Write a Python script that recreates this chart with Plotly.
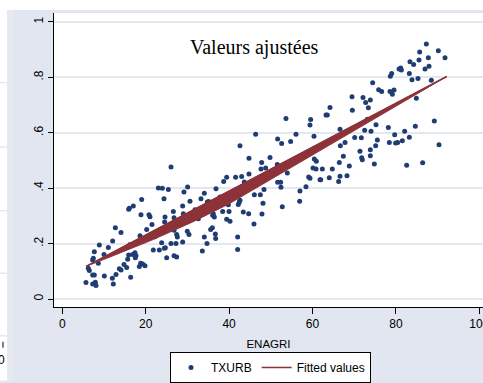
import numpy as np
import plotly.graph_objects as go

# ---------------- data ----------------
enagri = [
    5.68, 7.28, 7.92, 8.08, 7.28, 7.68, 6.48, 6.24, 7.44, 7.28, 7.68, 8.88, 8.64, 10.08, 10.0,
    11.04, 12.08, 12.0, 12.24, 12.72, 12.88, 13.68, 14.08, 14.08, 14.8, 15.44, 15.68, 15.92,
    16.23, 16.4, 15.92, 16.07, 17.03, 16.87, 17.43, 17.67, 17.51, 18.47, 18.79, 18.63, 19.03,
    19.27, 19.83, 18.87, 20.23, 20.79, 21.03, 21.51, 21.83, 23.27, 23.83, 24.47, 24.71, 25.03,
    26.07, 26.79, 26.79, 27.27, 27.43, 27.43, 27.59, 29.98, 30.38, 28.86, 33.58, 34.06, 34.7,
    35.58, 35.98, 36.7, 36.78, 39.42, 40.22, 42.05, 42.05,
    23.03, 23.99, 24.39, 25.43, 24.55, 24.63, 26.07, 26.63, 28.86, 29.02, 29.18, 30.06, 30.62,
    31.82, 32.62, 33.26, 34.06, 34.78, 35.1, 36.06, 36.22, 36.46, 36.86, 37.82, 38.46, 38.7,
    39.42, 39.82, 39.98, 41.57, 42.21, 43.01, 43.65, 43.41, 42.61, 42.45, 44.77, 44.77, 44.69,
    26.8, 42.61, 22.2,
    63.56, 63.24, 59.56, 59.4, 53.64, 60.36, 56.04, 54.76, 52.6, 51.64, 46.37, 47.81, 47.65,
    48.77, 49.81, 51.56, 51.8, 52.36, 52.44, 51.64, 52.76, 48.13, 47.89, 48.37, 47.49, 46.05,
    45.97, 53.96, 57.0, 56.92, 58.44, 59.08, 59.4, 60.12, 60.84, 62.36, 61.96, 61.8, 60.92,
    60.44, 64.03,
    64.75, 66.43, 66.27, 66.59, 68.27, 68.83, 74.83, 82.58, 86.42, 71.95,
    87.3, 90.18, 85.7, 91.78, 87.78, 85.54, 83.38, 84.26, 81.15, 80.75, 81.31, 78.99, 78.67,
    83.22, 86.98, 87.94, 85.3, 83.86, 88.5, 74.43, 69.48, 72.11, 73.87, 72.75, 73.39, 69.56,
    64.2, 75.87, 76.59, 78.59, 79.55, 79.15, 84.9, 75.23, 78.19, 74.03, 72.51, 71.71, 70.12,
    66.6, 67.8, 66.68, 82.1, 83.22, 84.66, 89.22, 90.34, 79.71, 81.55, 80.43, 79.95, 78.43,
    75.55, 75.15, 73.87, 71.39, 73.87, 71.79, 67.4, 73.15,
]
txurb = [
    0.060, 0.054, 0.061, 0.049, 0.087, 0.087, 0.103, 0.111, 0.147, 0.141, 0.171, 0.195, 0.129,
    0.083, 0.161, 0.186, 0.209, 0.075, 0.054, 0.257, 0.089, 0.109, 0.105, 0.240, 0.125, 0.114,
    0.144, 0.159, 0.197, 0.079, 0.324, 0.328, 0.336, 0.161, 0.167, 0.156, 0.149, 0.117, 0.129,
    0.228, 0.359, 0.126, 0.120, 0.304, 0.251, 0.304, 0.297, 0.269, 0.177, 0.177, 0.203, 0.183,
    0.185, 0.149, 0.200, 0.248, 0.156, 0.200, 0.152, 0.233, 0.224, 0.245, 0.233, 0.206, 0.173,
    0.224, 0.200, 0.251, 0.257, 0.235, 0.218, 0.288, 0.281, 0.224, 0.179,
    0.401, 0.400, 0.362, 0.395, 0.278, 0.296, 0.476, 0.316, 0.336, 0.308, 0.386, 0.404, 0.353,
    0.322, 0.290, 0.362, 0.382, 0.350, 0.352, 0.302, 0.308, 0.296, 0.398, 0.368, 0.316, 0.424,
    0.439, 0.340, 0.316, 0.439, 0.341, 0.442, 0.422, 0.314, 0.356, 0.350, 0.508, 0.451, 0.308,
    0.293, 0.553, 0.225,
    0.664, 0.664, 0.648, 0.628, 0.651, 0.587, 0.595, 0.568, 0.561, 0.577, 0.595, 0.493, 0.469,
    0.473, 0.511, 0.485, 0.481, 0.421, 0.403, 0.421, 0.333, 0.346, 0.307, 0.395, 0.376, 0.376,
    0.271, 0.455, 0.390, 0.353, 0.405, 0.440, 0.436, 0.473, 0.469, 0.469, 0.430, 0.430, 0.497,
    0.505, 0.438,
    0.469, 0.493, 0.424, 0.443, 0.445, 0.480, 0.487, 0.483, 0.492, 0.503,
    0.920, 0.896, 0.891, 0.871, 0.871, 0.862, 0.856, 0.846, 0.834, 0.830, 0.826, 0.814, 0.804,
    0.814, 0.830, 0.840, 0.796, 0.791, 0.789, 0.780, 0.730, 0.727, 0.718, 0.709, 0.690, 0.681,
    0.691, 0.755, 0.749, 0.749, 0.754, 0.739, 0.724, 0.629, 0.619, 0.605, 0.609, 0.582, 0.583,
    0.613, 0.565, 0.553, 0.605, 0.584, 0.623, 0.642, 0.557, 0.593, 0.571, 0.565, 0.563, 0.565,
    0.574, 0.553, 0.539, 0.533, 0.517, 0.510, 0.515, 0.649,
]
fit_x = [5.7, 92.2]
fit_y = [0.118, 0.803]

x_tick_vals = [0, 20, 40, 60, 80, 100]
x_tick_text = ["0", "20", "40", "60", "80", "100"]
y_tick_vals = [0, 0.2, 0.4, 0.6, 0.8, 1.0]
y_tick_text = ["0", ".2", ".4", ".6", ".8", "1"]

# ---------------- styles ----------------
NAVY = "#1F3D72"
MAROON = "#8E3239"
BG = "#E2E6F0"
GRID = "#E3E7F0"
BAND_MAX = 0.046  # thickness of the drawn fitted band (y units)

W, H = 483, 383
ML, MR, MT, MB = 54, 0, 13, 74
PW, PH = W - ML - MR, H - MT - MB


def px2paper(px, py):
    return (px - ML) / PW, (H - MB - py) / PH


# fitted band (wedge-like rendering of the fitted line)
xs = np.linspace(fit_x[0], fit_x[1], 160)
slope = (fit_y[1] - fit_y[0]) / (fit_x[1] - fit_x[0])
upper = fit_y[0] + slope * (xs - fit_x[0])
t = (xs - fit_x[0]) / (fit_x[1] - fit_x[0])
tp = 0.4
prof = np.where(t < tp, np.sin(np.pi / 2 * t / tp), (1 - t) / (1 - tp))
lower = upper - BAND_MAX * prof
band_x = np.concatenate([xs, xs[::-1]])
band_y = np.concatenate([upper, lower[::-1]])

fig = go.Figure()
fig.add_trace(go.Scatter(
    x=enagri, y=txurb, mode="markers", name="TXURB",
    marker=dict(color=NAVY, size=5, line=dict(width=0)),
))
fig.add_trace(go.Scatter(
    x=band_x, y=band_y, mode="lines", fill="toself", fillcolor=MAROON,
    line=dict(color=MAROON, width=1), showlegend=False, hoverinfo="skip",
))
fig.add_trace(go.Scatter(
    x=fit_x, y=fit_y, mode="lines", name="Fitted values",
    line=dict(color=MAROON, width=1.5),
))

shapes = []
# white page strip above the graph region and at the left
x0, y0 = px2paper(0, 0)
x1, y1 = px2paper(W, 10)
shapes.append(dict(type="rect", xref="paper", yref="paper", x0=x0, x1=x1, y0=y1, y1=y0,
                   fillcolor="white", line=dict(width=0), layer="below"))
xa, ya = px2paper(0, 0)
xb, yb = px2paper(7, H)
shapes.append(dict(type="rect", xref="paper", yref="paper", x0=xa, x1=xb, y0=yb, y1=ya,
                   fillcolor="white", line=dict(width=0), layer="below"))
xc, _ = px2paper(14, 0)
_, yc = px2paper(0, 10)
shapes.append(dict(type="rect", xref="paper", yref="paper", x0=xb, x1=xc, y0=yb, y1=yc,
                   fillcolor="#E7E9F1", line=dict(width=0), layer="below"))
for py in [83, 148, 212, 275, 338]:
    _, yy = px2paper(0, py)
    shapes.append(dict(type="line", xref="paper", yref="paper", x0=xa, x1=xb, y0=yy, y1=yy,
                       line=dict(color="#E4E8F0", width=1.5), layer="below"))
_, ty0 = px2paper(0, 344)
_, ty1 = px2paper(0, 350)
tx, _ = px2paper(3, 0)
shapes.append(dict(type="line", xref="paper", yref="paper", x0=tx, x1=tx, y0=ty0, y1=ty1,
                   line=dict(color="black", width=1)))

annotations = []
ax, ay = px2paper(254.7, 48)
annotations.append(dict(text="Valeurs ajustées", xref="paper", yref="paper", x=ax, y=ay,
                        xanchor="center", yanchor="middle", showarrow=False,
                        font=dict(family="Liberation Serif", size=20, color="black")))
zx, zy = px2paper(1, 362)
annotations.append(dict(text="0", xref="paper", yref="paper", x=zx, y=zy,
                        xanchor="center", yanchor="middle", showarrow=False,
                        font=dict(family="Liberation Sans", size=12, color="black")))

lx, ly = px2paper(270.5, 354.3)

fig.update_layout(
    width=W, height=H, autosize=False,
    margin=dict(l=ML, r=MR, t=MT, b=MB, pad=0),
    paper_bgcolor=BG, plot_bgcolor="white",
    font=dict(family="Liberation Sans", size=12, color="black"),
    showlegend=True,
    legend=dict(orientation="h", x=lx, xanchor="center", y=ly, yanchor="top",
                bgcolor="white", bordercolor="black", borderwidth=1,
                font=dict(family="Liberation Sans", size=12, color="black"),
                itemwidth=30, tracegroupgap=0),
    shapes=shapes, annotations=annotations,
    xaxis=dict(range=[-1.99, 100.89], tickvals=x_tick_vals, ticktext=x_tick_text,
               showgrid=False, zeroline=False, showline=True, linecolor="black", linewidth=1,
               ticks="outside", ticklen=6, tickcolor="black", tickwidth=1,
               ticklabeloverflow="allow",
               tickfont=dict(family="Liberation Sans", size=12, color="black"),
               title=dict(text="ENAGRI", font=dict(family="Liberation Sans", size=11.5, color="black"),
                          standoff=9),
               automargin=False),
    yaxis=dict(range=[-0.0287, 1.032], tickvals=y_tick_vals, ticktext=y_tick_text,
               showgrid=True, gridcolor=GRID, gridwidth=1.5, zeroline=False,
               showline=True, linecolor="black", linewidth=1,
               ticks="outside", ticklen=5, tickcolor="black", tickwidth=1, tickangle=-90,
               tickfont=dict(family="Liberation Sans", size=12, color="black"),
               automargin=False),
)

fig.write_html("out.html")
